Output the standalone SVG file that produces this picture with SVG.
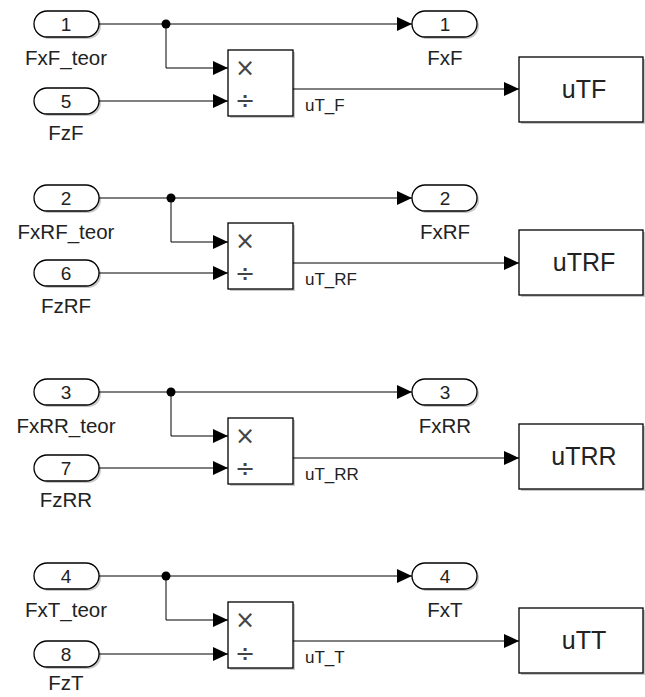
<svg xmlns="http://www.w3.org/2000/svg" width="645" height="697" viewBox="0 0 645 697">
<style>
.bg{fill:#ffffff}
.port{fill:#ffffff;stroke:#000;stroke-width:1.3}
.blk{fill:#ffffff;stroke:#000;stroke-width:1.3}
.shadow{fill:#c8c8c8;stroke:none}
.wire{fill:none;stroke:#000;stroke-width:1}
.num{font-family:"Liberation Sans",Arial,sans-serif;font-size:19px;fill:#222;text-anchor:middle}
.lbl{font-family:"Liberation Sans",Arial,sans-serif;font-size:20.5px;fill:#222;text-anchor:middle}
.sig{font-family:"Liberation Sans",Arial,sans-serif;font-size:17px;fill:#222}
.big{font-family:"Liberation Sans",Arial,sans-serif;font-size:25px;fill:#222;text-anchor:middle}
.op{font-family:"DejaVu Sans",sans-serif;font-size:24px;fill:#444;text-anchor:middle}
</style>
<defs>
<marker id="arr" viewBox="0 0 15 14" refX="15" refY="7" markerWidth="15" markerHeight="14" markerUnits="userSpaceOnUse" orient="auto">
<path d="M0,0 L15,7 L0,14 Z" fill="#000"/>
</marker>
</defs>
<rect class="bg" x="0" y="0" width="645" height="697"/>

<!-- Group 1, T=24 -->
<g id="in1"><rect class="shadow" x="36" y="13" width="65" height="26" rx="13"/><rect class="port" x="34" y="11" width="65" height="26" rx="13"/><text class="num" x="66" y="31">1</text><text class="lbl" x="66" y="65">FxF_teor</text></g>
<g id="in5"><rect class="shadow" x="36" y="90" width="65" height="26" rx="13"/><rect class="port" x="34" y="88" width="65" height="26" rx="13"/><text class="num" x="66" y="108">5</text><text class="lbl" x="66" y="140">FzF</text></g>
<g id="prod1"><rect class="shadow" x="230" y="52" width="65" height="66"/><rect class="blk" x="228" y="50" width="65" height="66"/><text class="op" x="245" y="76">×</text><text class="op" x="245" y="109">÷</text></g>
<g id="out1"><rect class="shadow" x="414" y="13" width="65" height="26" rx="13"/><rect class="port" x="412" y="11" width="65" height="26" rx="13"/><text class="num" x="445" y="31">1</text><text class="lbl" x="445" y="65">FxF</text></g>
<g id="uTF"><rect class="shadow" x="521" y="59" width="124" height="65"/><rect class="blk" x="519" y="57" width="124" height="65"/><text class="big" x="584" y="98">uTF</text></g>

<!-- Group 2, T=198 -->
<g id="in2"><rect class="shadow" x="36" y="187" width="65" height="26" rx="13"/><rect class="port" x="34" y="185" width="65" height="26" rx="13"/><text class="num" x="66" y="205">2</text><text class="lbl" x="66" y="239">FxRF_teor</text></g>
<g id="in6"><rect class="shadow" x="36" y="262" width="65" height="26" rx="13"/><rect class="port" x="34" y="260" width="65" height="26" rx="13"/><text class="num" x="66" y="280">6</text><text class="lbl" x="66" y="313">FzRF</text></g>
<g id="prod2"><rect class="shadow" x="230" y="225" width="65" height="66"/><rect class="blk" x="228" y="223" width="65" height="66"/><text class="op" x="245" y="249">×</text><text class="op" x="245" y="282">÷</text></g>
<g id="out2"><rect class="shadow" x="414" y="187" width="65" height="26" rx="13"/><rect class="port" x="412" y="185" width="65" height="26" rx="13"/><text class="num" x="445" y="205">2</text><text class="lbl" x="445" y="239">FxRF</text></g>
<g id="uTRF"><rect class="shadow" x="521" y="232" width="124" height="65"/><rect class="blk" x="519" y="230" width="124" height="65"/><text class="big" x="584" y="271">uTRF</text></g>

<!-- Group 3, T=392 -->
<g id="in3"><rect class="shadow" x="36" y="381" width="65" height="26" rx="13"/><rect class="port" x="34" y="379" width="65" height="26" rx="13"/><text class="num" x="66" y="399">3</text><text class="lbl" x="66" y="433">FxRR_teor</text></g>
<g id="in7"><rect class="shadow" x="36" y="457" width="65" height="26" rx="13"/><rect class="port" x="34" y="455" width="65" height="26" rx="13"/><text class="num" x="66" y="475">7</text><text class="lbl" x="66" y="507">FzRR</text></g>
<g id="prod3"><rect class="shadow" x="230" y="420" width="65" height="66"/><rect class="blk" x="228" y="418" width="65" height="66"/><text class="op" x="245" y="444">×</text><text class="op" x="245" y="477">÷</text></g>
<g id="out3"><rect class="shadow" x="414" y="381" width="65" height="26" rx="13"/><rect class="port" x="412" y="379" width="65" height="26" rx="13"/><text class="num" x="445" y="399">3</text><text class="lbl" x="445" y="433">FxRR</text></g>
<g id="uTRR"><rect class="shadow" x="521" y="426" width="124" height="65"/><rect class="blk" x="519" y="424" width="124" height="65"/><text class="big" x="584" y="465">uTRR</text></g>

<!-- Group 4, T=576 -->
<g id="in4"><rect class="shadow" x="36" y="565" width="65" height="26" rx="13"/><rect class="port" x="34" y="563" width="65" height="26" rx="13"/><text class="num" x="66" y="583">4</text><text class="lbl" x="66" y="617">FxT_teor</text></g>
<g id="in8"><rect class="shadow" x="36" y="643" width="65" height="26" rx="13"/><rect class="port" x="34" y="641" width="65" height="26" rx="13"/><text class="num" x="66" y="661">8</text><text class="lbl" x="66" y="690">FzT</text></g>
<g id="prod4"><rect class="shadow" x="230" y="604" width="65" height="66"/><rect class="blk" x="228" y="602" width="65" height="66"/><text class="op" x="245" y="628">×</text><text class="op" x="245" y="662">÷</text></g>
<g id="out4"><rect class="shadow" x="414" y="565" width="65" height="26" rx="13"/><rect class="port" x="412" y="563" width="65" height="26" rx="13"/><text class="num" x="445" y="583">4</text><text class="lbl" x="445" y="617">FxT</text></g>
<g id="uTT"><rect class="shadow" x="521" y="610" width="124" height="65"/><rect class="blk" x="519" y="608" width="124" height="65"/><text class="big" x="584" y="649">uTT</text></g>

<g id="connectors">
<!-- group 1 -->
<path class="wire" d="M99,24 H412" marker-end="url(#arr)"/>
<path class="wire" d="M166,24 V68 H228" marker-end="url(#arr)"/>
<path class="wire" d="M99,101 H228" marker-end="url(#arr)"/>
<path class="wire" d="M293,89 H519" marker-end="url(#arr)"/>
<circle cx="166" cy="24" r="4.5" fill="#000"/>
<text class="sig" x="305" y="111">uT_F</text>
<!-- group 2 -->
<path class="wire" d="M99,198 H412" marker-end="url(#arr)"/>
<path class="wire" d="M171,198 V242 H228" marker-end="url(#arr)"/>
<path class="wire" d="M99,273 H228" marker-end="url(#arr)"/>
<path class="wire" d="M293,263 H519" marker-end="url(#arr)"/>
<circle cx="171" cy="198" r="4.5" fill="#000"/>
<text class="sig" x="305" y="285">uT_RF</text>
<!-- group 3 -->
<path class="wire" d="M99,392 H412" marker-end="url(#arr)"/>
<path class="wire" d="M171,392 V436 H228" marker-end="url(#arr)"/>
<path class="wire" d="M99,468 H228" marker-end="url(#arr)"/>
<path class="wire" d="M293,458 H519" marker-end="url(#arr)"/>
<circle cx="171" cy="392" r="4.5" fill="#000"/>
<text class="sig" x="305" y="480">uT_RR</text>
<!-- group 4 -->
<path class="wire" d="M99,576 H412" marker-end="url(#arr)"/>
<path class="wire" d="M166,576 V620 H228" marker-end="url(#arr)"/>
<path class="wire" d="M99,654 H228" marker-end="url(#arr)"/>
<path class="wire" d="M293,641 H519" marker-end="url(#arr)"/>
<circle cx="166" cy="576" r="4.5" fill="#000"/>
<text class="sig" x="305" y="663">uT_T</text>
</g>
</svg>
